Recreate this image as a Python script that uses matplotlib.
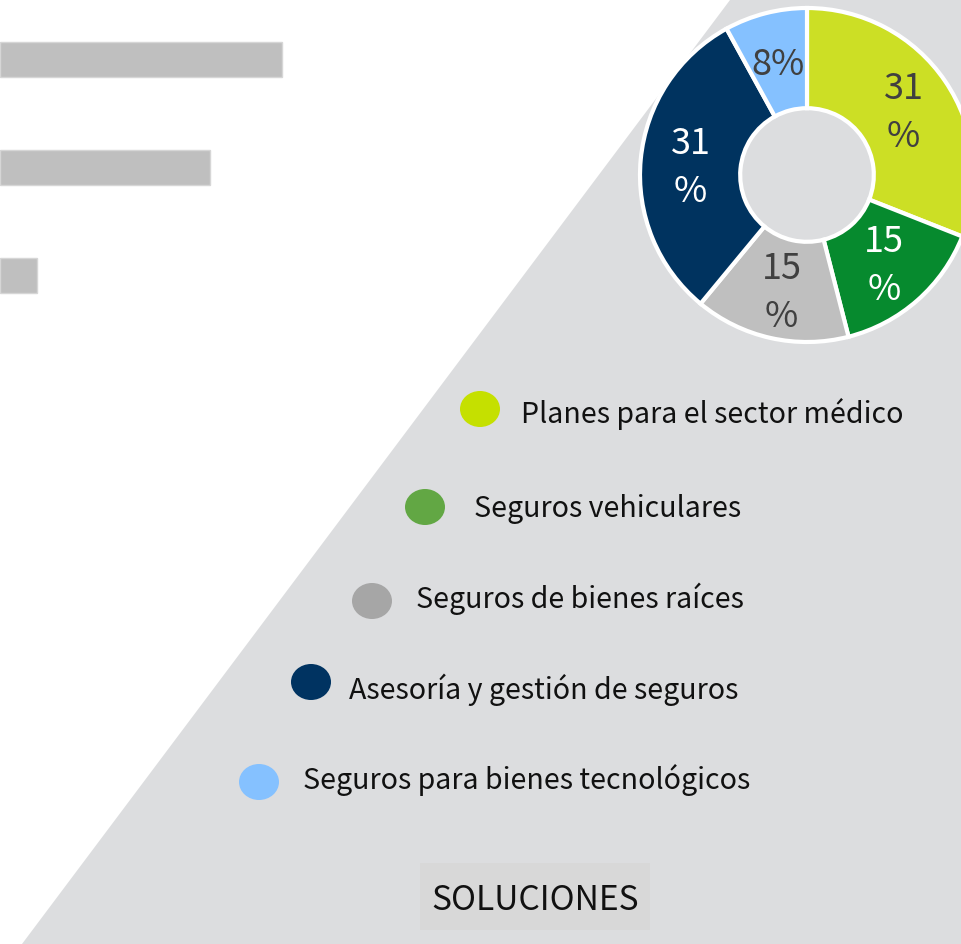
import matplotlib
matplotlib.use("Agg")
import numpy as np
import matplotlib.pyplot as plt
from matplotlib.patches import Polygon, Ellipse, Rectangle

plt.rcParams['font.family'] = ['Noto Sans CJK SC', 'DejaVu Sans']

# Data
categorias = ["Planes para el sector médico", "Seguros vehiculares",
              "Seguros de bienes raíces", "Asesoría y gestión de seguros",
              "Seguros para bienes tecnológicos"]
porcentajes = [31, 15, 15, 31, 8]
barras = [282, 210, 37]

# Colours
colores_dona = ["#CCDF25", "#068A2E", "#BFBFBF", "#00335F", "#85C1FF"]
colores_texto = ["#404040", "white", "#404040", "white", "#404040"]
colores_leyenda = ["#C5E000", "#62A744", "#A6A6A6", "#003361", "#85C1FF"]
gris_fondo = "#DCDDDF"

W, H = 961, 944
fig = plt.figure(figsize=(W / 100, H / 100), dpi=100)
fig.patch.set_facecolor("white")

# Background canvas in pixel units
ax = fig.add_axes([0, 0, 1, 1])
ax.set_xlim(0, W)
ax.set_ylim(H, 0)
ax.axis("off")
ax.add_patch(Polygon([(730, 0), (W, 0), (W, H), (22, H)], closed=True,
                     facecolor=gris_fondo, edgecolor="none"))

# Legend: coloured dots with labels, stepping down the diagonal
dot_x = [480, 425, 372, 311, 259]
dot_y = [409, 507, 601, 682, 782]
txt_x = [521, 474, 416, 349, 303]
txt_y = [423, 517, 608, 699, 789]
for i, cat in enumerate(categorias):
    ax.add_patch(Ellipse((dot_x[i], dot_y[i]), 40, 36,
                         facecolor=colores_leyenda[i], edgecolor="none"))
    ax.text(txt_x[i], txt_y[i], cat, fontsize=20.6, color="#111111",
            ha="left", va="baseline")

# Footer label
ax.add_patch(Rectangle((420, 863), 230, 67, facecolor="#D8D8D8",
                       edgecolor="none"))
ax.text(535, 910, "SOLUCIONES", fontsize=24.2, color="#111111",
        ha="center", va="baseline")

# Horizontal bars at the left
ax_b = fig.add_axes([0, (H - 329.5) / H, 300 / W, 324 / H])
ax_b.barh(range(len(barras)), barras, height=0.324, color="#BFBFBF",
          edgecolor="#D6D6D6", linewidth=1)
ax_b.set_xlim(0, 300)
ax_b.set_ylim(2.5, -0.5)
ax_b.axis("off")

# Donut chart
cx, cy, r = 807, 175, 167
ax_d = fig.add_axes([(cx - r) / W, (H - cy - r) / H, 2 * r / W, 2 * r / H])
ax_d.patch.set_alpha(0)
wedges, _ = ax_d.pie(porcentajes, colors=colores_dona, startangle=90,
                     counterclock=False, radius=1,
                     wedgeprops=dict(width=0.6, edgecolor="white", linewidth=3))
acum = 0
for v, c in zip(porcentajes, colores_texto):
    ang = np.deg2rad(90 - (acum + v / 2) * 3.6)
    acum += v
    etiqueta = f"{v}%" if v < 10 else f"{v}\n%"
    ax_d.text(0.7 * np.cos(ang), 0.7 * np.sin(ang) - 0.022, etiqueta, color=c,
              fontsize=26, ha="center", va="center", linespacing=1.42)
ax_d.set_xlim(-1, 1)
ax_d.set_ylim(-1, 1)
ax_d.set_aspect("equal")
ax_d.axis("off")

fig.savefig("out.png", dpi=100)
